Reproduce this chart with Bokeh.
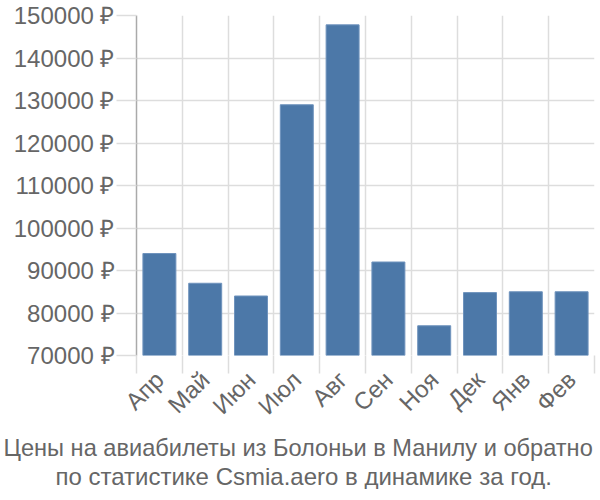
import math
from bokeh.plotting import figure
from bokeh.models import FixedTicker, PrintfTickFormatter, Title, Range1d
from bokeh.embed import file_html
from bokeh.resources import INLINE

months = ["Апр", "Май", "Июн", "Июл", "Авг", "Сен", "Ноя", "Дек", "Янв", "Фев"]
prices = [94000, 87000, 84000, 129000, 147800, 92000, 77000, 84800, 85000, 85000]
y_ticks = [70000, 80000, 90000, 100000, 110000, 120000, 130000, 140000, 150000]
title_lines = ["Цены на авиабилеты из Болоньи в Манилу и обратно",
               "по статистике Csmia.aero в динамике за год."]
title_offsets = [-133, -81]
title_sizes = ["23.6px", "24px"]

n = len(months)
centers = [i + 0.5 for i in range(n)]
bounds = [i for i in range(n + 1)]

FONT = "Liberation Sans"
TXT = "#666666"
GRID = "#dddddd"
FS = "24px"

p = figure(output_backend="svg", toolbar_location=None,
           frame_width=458, frame_height=340,
           x_range=Range1d(0, n), y_range=Range1d(70000, 150000),
           min_border_left=136, min_border_right=6, min_border_top=15, min_border_bottom=10)
p.outline_line_color = None
p.background_fill_color = "white"

p.vbar(x=centers, top=prices, bottom=70000, width=0.72,
       fill_color="#4c78a8", line_color="#6f93bd", line_width=1)

# x axis: labels at centers, boundary tick marks as minor ticks
p.xaxis.ticker = FixedTicker(ticks=centers, minor_ticks=bounds)
p.xaxis.major_label_overrides = {c: m for c, m in zip(centers, months)}
p.xaxis.major_tick_out = 0
p.xaxis.major_tick_in = 0
p.xaxis.minor_tick_out = 18
p.xaxis.minor_tick_in = 0
p.xaxis.minor_tick_line_color = GRID
p.xaxis.minor_tick_line_width = 1.5
p.xaxis.axis_line_color = None
p.xaxis.major_label_orientation = math.pi / 4
p.xaxis.major_label_text_font = FONT
p.xaxis.major_label_text_font_size = FS
p.xaxis.major_label_text_color = TXT
p.xaxis.major_label_standoff = 2

p.xgrid.ticker = FixedTicker(ticks=bounds)
p.xgrid.grid_line_color = GRID
p.xgrid.grid_line_width = 1.5

# y axis
p.yaxis.ticker = FixedTicker(ticks=y_ticks)
p.yaxis.formatter = PrintfTickFormatter(format="%d ₽")
p.yaxis.major_tick_out = 20
p.yaxis.major_tick_in = 0
p.yaxis.major_tick_line_color = GRID
p.yaxis.major_tick_line_width = 1.5
p.yaxis.minor_tick_line_color = None
p.yaxis.axis_line_color = "#aaaaaa"
p.yaxis.axis_line_width = 1.5
p.yaxis.major_label_text_font = FONT
p.yaxis.major_label_text_font_size = FS
p.yaxis.major_label_text_color = TXT
p.yaxis.major_label_standoff = 2

p.ygrid.grid_line_color = GRID
p.ygrid.grid_line_width = 1.5

for line, off, fs in zip(title_lines, title_offsets, title_sizes):
    p.add_layout(Title(text=line, align="left", text_font=FONT,
                       text_font_size=fs, text_color=TXT, offset=off,
                       text_font_style="normal", standoff=0), "below")

open("out.html", "w").write(file_html(p, INLINE))
